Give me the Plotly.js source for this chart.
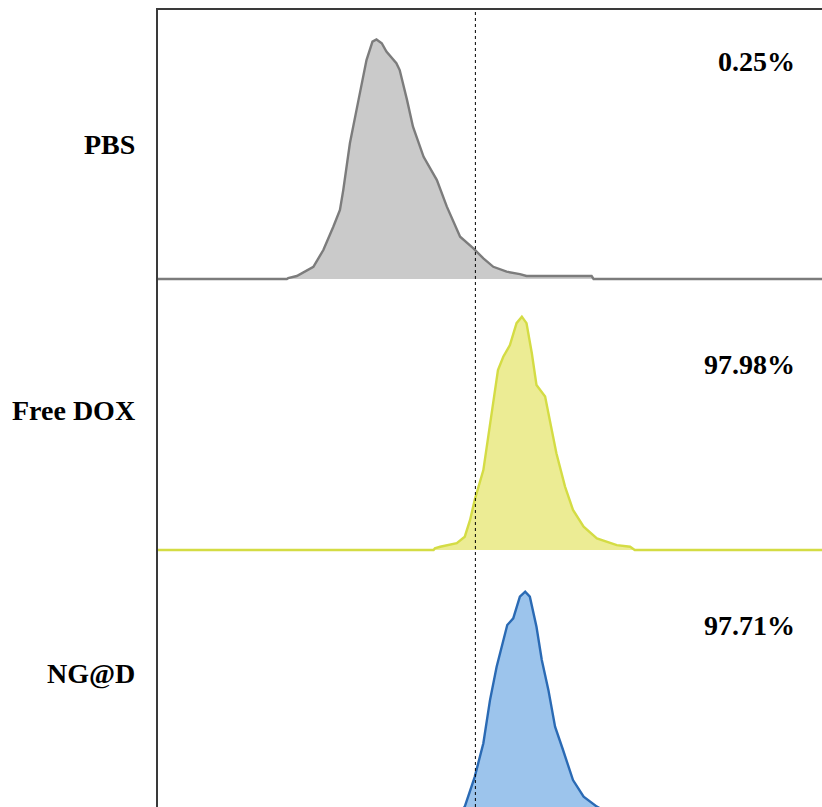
<!DOCTYPE html>
<html>
<head>
<meta charset="utf-8">
<script src="https://cdn.plot.ly/plotly-3.0.1.min.js"></script>
<style>
  html, body { margin: 0; padding: 0; background: #ffffff; }
  #chart { width: 822px; height: 807px; }
</style>
</head>
<body>
<div id="chart"></div>
<script>
// Flow cytometry histograms (DOX fluorescence), one stacked panel per group.
const groups = ["PBS", "Free DOX", "NG@D"];
const positiveRates = ["0.25%", "97.98%", "97.71%"];

// Fluorescence channel position (arbitrary units, 0-100) and normalised counts
const pbsX = [0, 19.4, 19.6, 20.9, 23.4, 24.9, 26.4, 27.4, 27.9, 28.9, 30.2, 31.4, 32.3, 32.9, 33.7, 34.4, 35.9, 36.4, 37.5, 38.4, 40.0, 42.0, 43.5, 45.5, 47.5, 49.0, 50.5, 52.5, 54.5, 55.5, 65.3, 65.6, 100];
const pbsY = [0, 0, 0.3, 1.1, 4.5, 10.7, 19.3, 25.5, 32.8, 50.1, 66.1, 80.8, 87.6, 88.4, 87.0, 83.9, 79.6, 77.1, 66.1, 56.2, 45.1, 36.5, 26.7, 15.6, 11.3, 7.6, 4.5, 2.7, 1.8, 1.1, 1.1, 0, 0];

const doxX = [0, 41.5, 41.7, 42.5, 45.0, 46.2, 47.0, 47.7, 49.0, 50.0, 50.8, 51.2, 52.0, 53.0, 54.0, 54.8, 55.5, 56.3, 57.0, 58.3, 59.0, 60.0, 61.3, 62.5, 64.1, 66.1, 69.1, 71.1, 71.8, 100];
const doxY = [0, 0, 0.6, 1.2, 2.5, 4.9, 11.1, 18.5, 29.5, 45.5, 59.0, 66.4, 71.3, 75.6, 83.7, 86.1, 83.7, 72.6, 60.9, 56.6, 48.0, 35.7, 23.4, 14.8, 8.6, 4.3, 1.8, 1.2, 0, 0];

const ngdX = [0, 41.5, 43.5, 45.0, 46.2, 47.7, 49.0, 50.0, 51.0, 52.0, 52.6, 53.5, 54.5, 55.3, 56.0, 57.0, 57.8, 58.8, 59.8, 61.0, 62.5, 64.1, 66.1, 68.0, 70.0, 72.5, 100];
const ngdY = [0, 0, 0.8, 2.0, 5.3, 16.3, 28.7, 44.6, 56.9, 66.8, 72.3, 74.8, 82.8, 84.6, 82.8, 71.7, 59.4, 48.3, 34.8, 26.2, 15.1, 9.0, 5.3, 2.8, 1.2, 0, 0];

// Gate separating DOX-negative and DOX-positive cells
const gateX = 47.8;

const series = [
  { x: pbsX, y: pbsY, line: "#7c7c7c", fill: "#cacaca" },
  { x: doxX, y: doxY, line: "#d4dc44", fill: "#ecec94" },
  { x: ngdX, y: ngdY, line: "#2a6ab4", fill: "#9cc4ec" }
];

// Each panel is 100 units tall; panels stack from the top down.
const panelBase = [200, 100, 0];

const traces = series.map((s, i) => ({
  type: "scatter",
  mode: "lines",
  name: groups[i],
  x: s.x,
  y: s.y.map(v => v + panelBase[i]),
  fill: "toself",
  fillcolor: s.fill,
  line: { color: s.line, width: 2.4, shape: "linear" },
  hoverinfo: "skip",
  showlegend: false
}));

const W = 822, H = 807, L = 158, T = 10;
const plotW = W - L, plotH = H - T;
const px = v => (v - L) / plotW;
const py = v => (H - v) / plotH;

const labelFont = { family: "Liberation Serif, Times New Roman, serif", size: 28, color: "#000000" };
const groupY = [144, 410, 673];
const rateY = [62, 364, 625];

const annotations = [];
groups.forEach((g, i) => {
  annotations.push({
    xref: "paper", yref: "paper", x: px(137), y: py(groupY[i]),
    xanchor: "right", yanchor: "middle", showarrow: false,
    text: "<b>" + g + "</b>", font: labelFont
  });
  annotations.push({
    xref: "paper", yref: "paper", x: px(797), y: py(rateY[i]),
    xanchor: "right", yanchor: "middle", showarrow: false,
    text: "<b>" + positiveRates[i] + "</b>", font: labelFont
  });
});

const layout = {
  width: W, height: H,
  margin: { l: L, r: 0, t: T, b: 0, pad: 0 },
  paper_bgcolor: "#ffffff",
  plot_bgcolor: "#ffffff",
  showlegend: false,
  xaxis: {
    range: [0, 100], side: "top",
    showline: true, linecolor: "#3a3a3a", linewidth: 2,
    showgrid: false, zeroline: false, showticklabels: false, ticks: "",
    fixedrange: true
  },
  yaxis: {
    range: [5.17, 299.26],
    showline: true, linecolor: "#3a3a3a", linewidth: 2,
    showgrid: false, zeroline: false, showticklabels: false, ticks: "",
    fixedrange: true
  },
  shapes: [{
    type: "line", xref: "x", yref: "paper",
    x0: gateX, x1: gateX, y0: 0, y1: 1,
    line: { color: "#000000", width: 1, dash: "dot" },
    layer: "above"
  }],
  annotations: annotations
};

Plotly.newPlot("chart", traces, layout, { displayModeBar: false, staticPlot: true });
</script>
</body>
</html>
